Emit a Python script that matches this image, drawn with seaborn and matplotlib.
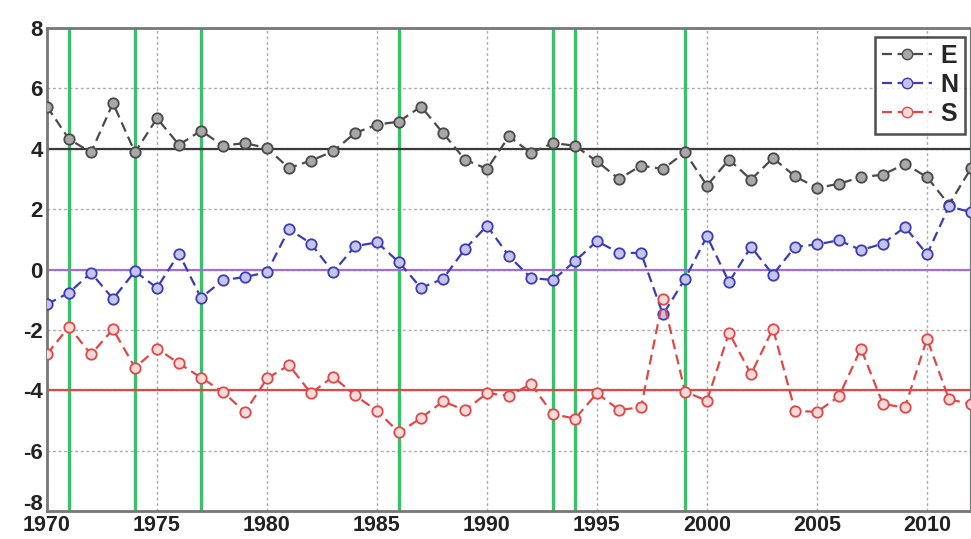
import numpy as np
import pandas as pd
import matplotlib
matplotlib.use("Agg")
import matplotlib.pyplot as plt
import matplotlib.transforms as mtransforms
import seaborn as sns
from matplotlib.lines import Line2D

years = list(range(1970, 2013))

E = [5.40, 4.32, 3.88, 5.51, 3.88, 5.01, 4.13, 4.60, 4.10, 4.19,
     4.02, 3.36, 3.61, 3.91, 4.52, 4.80, 4.90, 5.40, 4.52, 3.64,
     3.33, 4.41, 3.86, 4.19, 4.10, 3.58, 3.00, 3.44, 3.33, 3.88,
     2.78, 3.64, 2.98, 3.69, 3.09, 2.70, 2.84, 3.06, 3.14, 3.50,
     3.06, 2.15, 3.35]

N = [-1.15, -0.77, -0.11, -0.97, -0.06, -0.61, 0.53, -0.94, -0.35, -0.25,
     -0.09, 1.34, 0.86, -0.09, 0.77, 0.90, 0.24, -0.61, -0.31, 0.68,
     1.45, 0.44, -0.28, -0.35, 0.28, 0.94, 0.55, 0.55, -1.49, -0.31,
     1.10, -0.42, 0.75, -0.17, 0.75, 0.83, 0.97, 0.64, 0.86, 1.41,
     0.50, 2.09, 1.90]

S = [-2.80, -1.90, -2.81, -1.98, -3.25, -2.62, -3.11, -3.58, -4.06, -4.72,
     -3.61, -3.17, -4.10, -3.55, -4.17, -4.68, -5.40, -4.92, -4.37, -4.66,
     -4.10, -4.18, -3.80, -4.79, -4.94, -4.10, -4.65, -4.57, -0.97, -4.05,
     -4.35, -2.09, -3.47, -1.96, -4.68, -4.72, -4.20, -2.62, -4.46, -4.57,
     -2.29, -4.30, -4.46]

series_names = ["E", "N", "S"]
reference_levels = [4, 0, -4]
event_years = [1971, 1974, 1977, 1986, 1993, 1994, 1999, 2012]

x_ticks = [1970, 1975, 1980, 1985, 1990, 1995, 2000, 2005, 2010]
y_ticks = [-8, -6, -4, -2, 0, 2, 4, 6, 8]

sns.set_theme(style="white")
plt.rcParams["font.family"] = ["Liberation Sans", "DejaVu Sans"]
plt.rcParams["axes.unicode_minus"] = False

line_colors = {"E": "#4a4a4a", "N": "#3c3cb4", "S": "#e04848"}
face_colors = {"E": "#a8a8a8", "N": "#c4c4ec", "S": "#f8dada"}
level_colors = ["#3a3a3a", "#a070d8", "#e04848"]

df = pd.DataFrame({"year": years, "E": E, "N": N, "S": S})

fig = plt.figure(figsize=(9.71, 5.39), dpi=100)
ax = fig.add_axes([0.0484, 0.052, 0.9516, 0.896])

# event markers and reference levels
for yr in event_years:
    ax.axvline(yr, color="#3cbf6a", lw=2.4, zorder=1)
for lvl, col in zip(reference_levels, level_colors):
    ax.axhline(lvl, color=col, lw=1.6, zorder=1.5)

for name in series_names:
    sns.lineplot(data=df, x="year", y=name, ax=ax, color=line_colors[name],
                 linestyle=(0, (4.5, 2.5)), lw=1.6, marker="o", markersize=7.5,
                 markerfacecolor=face_colors[name],
                 markeredgecolor=line_colors[name], markeredgewidth=1.3,
                 zorder=3)

ax.set_xlim(1970, 2012)
ax.set_ylim(-8, 8)
ax.set_xticks(x_ticks)
ax.set_yticks(y_ticks)
ax.set_xticklabels([str(t) for t in x_ticks])
ax.set_yticklabels([str(t) for t in y_ticks])
ax.set_xlabel("")
ax.set_ylabel("")

ax.grid(True, linestyle=(0, (2, 2)), color="#aaaaaa", lw=1.0, zorder=0)
ax.tick_params(direction="in", length=6, width=1.2, colors="#555555",
               labelsize=16, labelcolor="#222222")
ax.tick_params(axis="x", pad=3, labelsize=15.5)
ax.tick_params(axis="y", pad=3)
for lbl in ax.get_xticklabels() + ax.get_yticklabels():
    lbl.set_fontweight("bold")

# lift the lowest y label so it clears the first year label
low_lbl = ax.get_yticklabels()[0]
low_lbl.set_transform(low_lbl.get_transform() +
                      mtransforms.ScaledTranslation(0, 9 / 100, fig.dpi_scale_trans))

for side, sp in ax.spines.items():
    sp.set_color("#777777")
    sp.set_linewidth(2)

handles = [Line2D([0], [0], color=line_colors[n], linestyle=(0, (4.5, 2.5)),
                  lw=1.6, marker="o", markersize=7.5,
                  markerfacecolor=face_colors[n],
                  markeredgecolor=line_colors[n]) for n in series_names]
leg = ax.legend(handles, series_names, loc="upper right",
                bbox_to_anchor=(0.994, 0.982), fontsize=18, frameon=True,
                fancybox=False, edgecolor="#222222", handlelength=2.0,
                handletextpad=0.3, borderpad=0.3, labelspacing=0.2,
                borderaxespad=0)
leg.get_frame().set_linewidth(1.8)
for t in leg.get_texts():
    t.set_fontweight("bold")

fig.savefig("out.png", dpi=100, facecolor="white")
